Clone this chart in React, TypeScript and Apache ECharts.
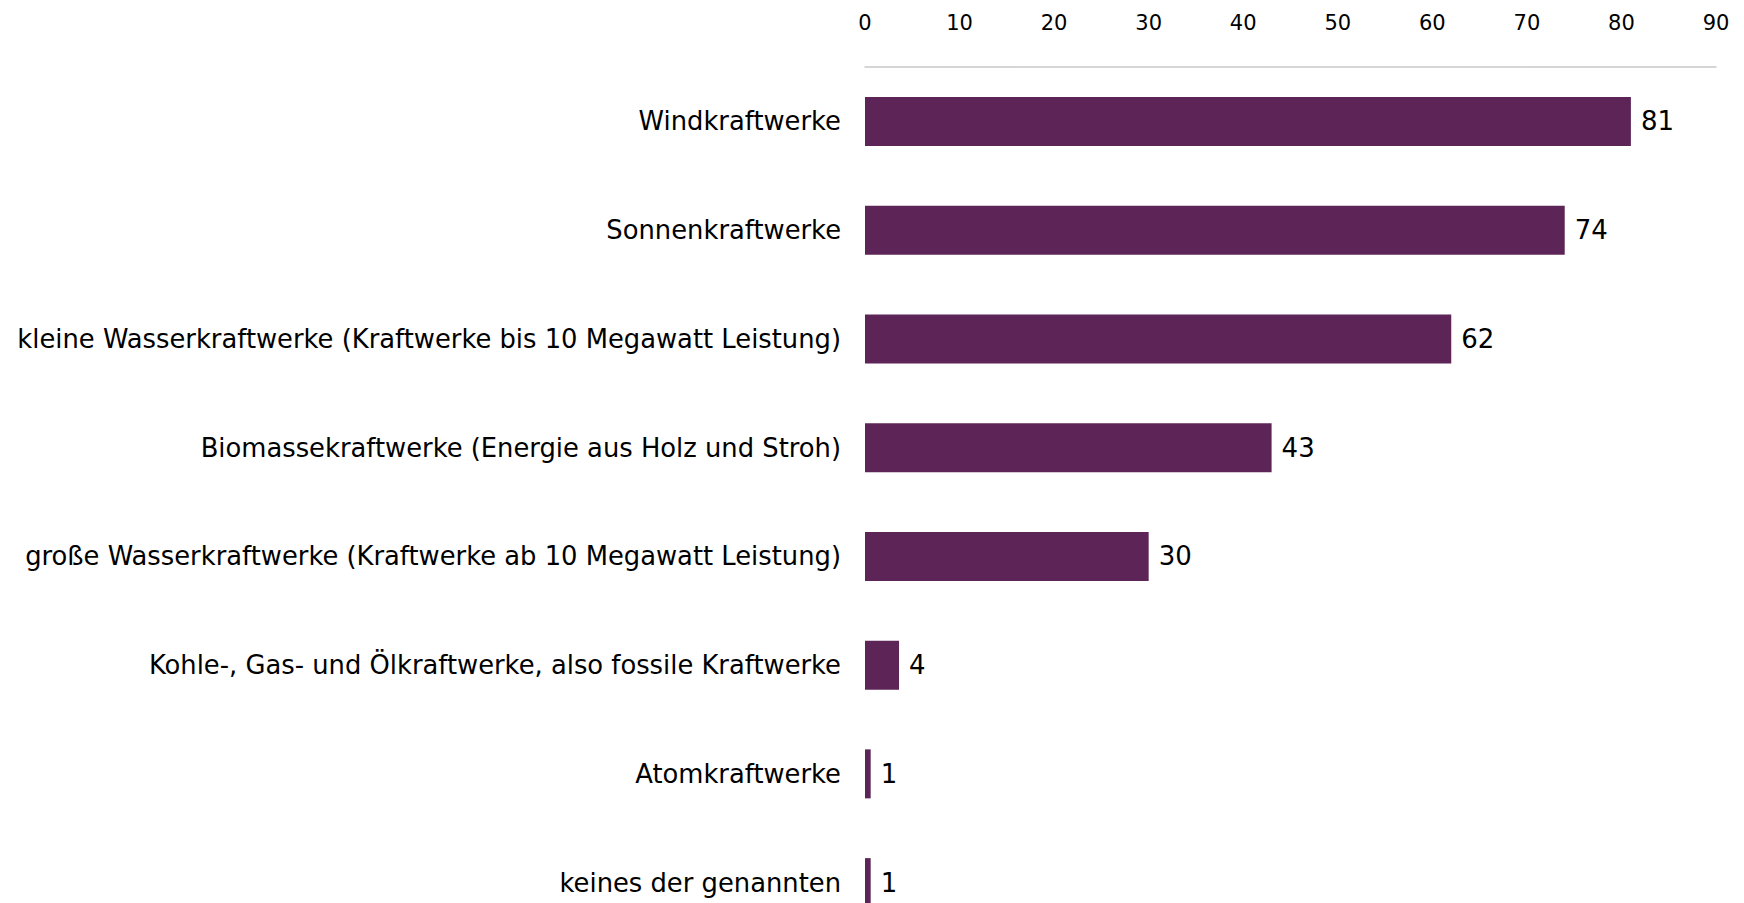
import React, { useEffect, useRef } from "react";
import * as echarts from "echarts";

const categories = [
  "Windkraftwerke",
  "Sonnenkraftwerke",
  "kleine Wasserkraftwerke (Kraftwerke bis 10 Megawatt Leistung)",
  "Biomassekraftwerke (Energie aus Holz und Stroh)",
  "große Wasserkraftwerke (Kraftwerke ab 10 Megawatt Leistung)",
  "Kohle-, Gas- und Ölkraftwerke, also fossile Kraftwerke",
  "Atomkraftwerke",
  "keines der genannten",
];
// bar lengths; labels show rounded percentages
const values = [81, 74, 62, 43, 30, 3.6, 0.6, 0.6];
const FONT = "'DejaVu Sans', sans-serif";

export default function App() {
  const ref = useRef<HTMLDivElement>(null);
  useEffect(() => {
    const chart = echarts.init(ref.current!, undefined, { renderer: "svg" });
    chart.setOption({
      animation: false,
      grid: { left: 865, right: 28, top: 67, bottom: 3, containLabel: false },
      xAxis: {
        type: "value",
        position: "top",
        min: 0,
        max: 90,
        interval: 10,
        axisLine: { show: true, lineStyle: { color: "#c8c8c8", width: 1.5 } },
        axisTick: { show: false },
        splitLine: { show: false },
        axisLabel: { color: "#000", fontSize: 21, fontFamily: FONT, margin: 34 },
      },
      yAxis: {
        type: "category",
        inverse: true,
        data: categories,
        axisLine: { show: false },
        axisTick: { show: false },
        axisLabel: { color: "#000", fontSize: 25.8, fontFamily: FONT, margin: 24 },
      },
      series: [
        {
          type: "bar",
          data: values,
          barWidth: 49,
          itemStyle: { color: "#5c2457" },
          label: {
            show: true,
            position: "right",
            distance: 10,
            color: "#000",
            fontSize: 26,
            fontFamily: FONT,
            formatter: (p: any) => String(Math.round(p.value)),
          },
        },
      ],
    });
    return () => chart.dispose();
  }, []);
  return (
    <div
      ref={ref}
      style={{ position: "fixed", left: 0, top: 0, width: 1744, height: 940, background: "#fff" }}
    />
  );
}
